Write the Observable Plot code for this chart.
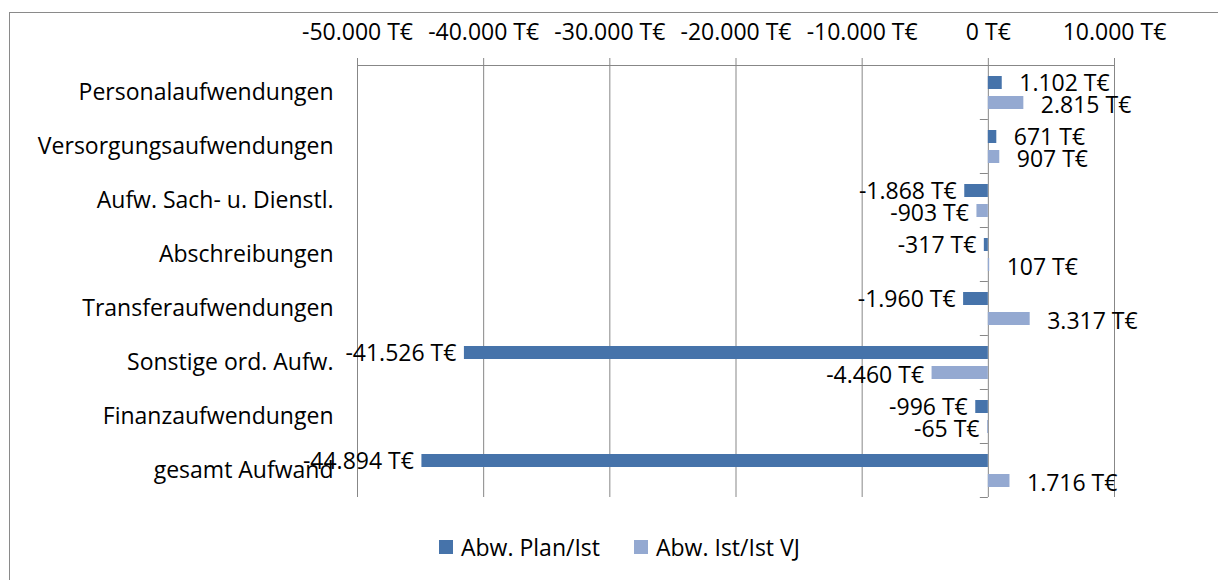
<!DOCTYPE html>
<html>
<head>
<meta charset="utf-8">
<script src="https://cdn.jsdelivr.net/npm/d3@7"></script>
<script src="https://cdn.jsdelivr.net/npm/@observablehq/plot@0.6"></script>
<style>
  html, body { margin: 0; padding: 0; background: #fff; width: 1218px; height: 580px; overflow: hidden; }
  #wrap { position: relative; width: 1218px; height: 580px; font-family: "Open Sans", sans-serif; }
  #frame { position: absolute; left: 9px; top: 12px; width: 1400px; height: 800px;
           border-left: 1.5px solid #8a8a8a; border-top: 1.5px solid #8a8a8a; pointer-events: none; }
  #legend { display: flex; align-items: center; margin-left: 439px; height: 54px; font-size: 23px; color: #000; }
  .item { display: flex; align-items: center; margin-right: 34px; }
  .sw { width: 14px; height: 14px; margin-right: 8px; }
</style>
</head>
<body>
<div id="wrap">
  <div id="chart"></div>
  <div id="legend"></div>
  <div id="frame"></div>
</div>
<script>
// ---- data ----
const categories = [
  "Personalaufwendungen",
  "Versorgungsaufwendungen",
  "Aufw. Sach- u. Dienstl.",
  "Abschreibungen",
  "Transferaufwendungen",
  "Sonstige ord. Aufw.",
  "Finanzaufwendungen",
  "gesamt Aufwand"
];
const planIst = [1102, 671, -1868, -317, -1960, -41526, -996, -44894];
const istIstVJ = [2815, 907, -903, 107, 3317, -4460, -65, 1716];
const seriesNames = ["Abw. Plan/Ist", "Abw. Ist/Ist VJ"];
const seriesColors = ["#4673aa", "#94a9d1"];
const xTicks = [-50000, -40000, -30000, -20000, -10000, 0, 10000];

// ---- formatting (German) ----
const de = d3.formatLocale({decimal: ",", thousands: ".", grouping: [3], currency: ["", "€"], minus: "-"});
const num = de.format(",d");
const fmt = v => num(v) + " T€";

const rowsPlan = categories.map((c, i) => ({category: c, value: planIst[i], series: seriesNames[0]}));
const rowsVJ = categories.map((c, i) => ({category: c, value: istIstVJ[i], series: seriesNames[1]}));

const gray = "#878787";

function bandTicks(index, scales) {
  const x0 = scales.x(0);
  const y = scales.y;
  const bw = y.bandwidth ? y.bandwidth() : 0;
  const g = d3.create("svg:g").attr("stroke", gray).attr("stroke-width", 1);
  categories.forEach(c => {
    const yy = Math.round(y(c) + bw) + 0.5;
    g.append("line").attr("x1", x0 - 8).attr("x2", x0).attr("y1", yy).attr("y2", yy);
  });
  return g.node();
}

const labelOpts = {x: "value", y: "category", text: d => fmt(d.value), fontSize: 23, fill: "#000"};

const chart = Plot.plot({
  width: 1218,
  height: 520,
  marginLeft: 357,
  marginRight: 104,
  marginTop: 65,
  marginBottom: 23,
  style: {fontFamily: "'Open Sans', sans-serif", fontSize: "23px", color: "#000", background: "#fff", overflow: "visible"},
  x: {domain: [-50000, 10000]},
  y: {domain: categories, paddingInner: 0, paddingOuter: 0},
  marks: [
    Plot.gridX(xTicks, {stroke: gray, strokeOpacity: 1}),
    Plot.frame({anchor: "top", stroke: gray}),
    Plot.barX(rowsPlan, {x: "value", y: "category", fill: seriesColors[0], insetTop: 11, insetBottom: 30}),
    Plot.barX(rowsVJ, {x: "value", y: "category", fill: seriesColors[1], insetTop: 31, insetBottom: 10}),
    bandTicks,
    Plot.text(rowsPlan, {...labelOpts, filter: d => d.value >= 0, textAnchor: "start", dx: 17, dy: -9}),
    Plot.text(rowsPlan, {...labelOpts, filter: d => d.value < 0, textAnchor: "end", dx: -8, dy: -9}),
    Plot.text(rowsVJ, {...labelOpts, filter: d => d.value >= 0, textAnchor: "start", dx: 17, dy: 13}),
    Plot.text(rowsVJ, {...labelOpts, filter: d => d.value < 0, textAnchor: "end", dx: -8, dy: 13}),
    Plot.axisX({anchor: "top", ticks: xTicks, tickFormat: fmt, tickSize: 8, tickPadding: 18, stroke: gray, fill: "#000", fontSize: 23, label: null}),
    Plot.axisY({anchor: "left", tickSize: 0, tickPadding: 24, fill: "#000", fontSize: 23, label: null})
  ]
});
document.getElementById("chart").appendChild(chart);

// ---- legend ----
const legend = document.getElementById("legend");
seriesNames.forEach((name, i) => {
  const item = document.createElement("div");
  item.className = "item";
  const sw = document.createElement("div");
  sw.className = "sw";
  sw.style.background = seriesColors[i];
  const t = document.createElement("span");
  t.textContent = name;
  item.appendChild(sw);
  item.appendChild(t);
  legend.appendChild(item);
});
</script>
</body>
</html>
